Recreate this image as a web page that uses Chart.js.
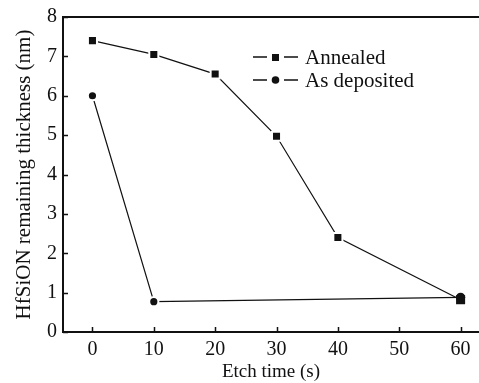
<!DOCTYPE html>
<html>
<head>
<meta charset="utf-8">
<script src="https://cdn.jsdelivr.net/npm/chart.js@4/dist/chart.umd.min.js"></script>
<style>
  html, body { margin: 0; padding: 0; background: #fff; }
  #chart { display: block; }
</style>
</head>
<body>
<canvas id="chart" width="479" height="383"></canvas>
<script>
let etch_times_annealed = [0, 10, 20, 30, 40, 60];
let thickness_annealed = [7.4, 7.05, 6.55, 4.97, 2.4, 0.82];
let etch_times_deposited = [0, 10, 60];
let thickness_deposited = [6.0, 0.77, 0.88];
let x_ticks = [0, 10, 20, 30, 40, 50, 60];

let serif = "'Liberation Serif', 'DejaVu Serif', serif";
let ink = "#111";

function toPoints(xs, ys) {
  let pts = [];
  for (let i = 0; i < xs.length; i++) {
    pts.push({ x: xs[i], y: ys[i] });
  }
  return pts;
}

// no white ring on the last point, where the two markers overlap
function ringWidth(ctx) {
  return ctx.dataIndex === ctx.dataset.data.length - 1 ? 0 : 2;
}

// inward tick marks, top frame line and the legend
let frame = {
  id: "frame",
  afterDraw(chart) {
    let c = chart.ctx;
    let area = chart.chartArea;
    let xs = chart.scales.x;
    let ys = chart.scales.y;
    c.save();
    c.strokeStyle = ink;
    c.lineWidth = 2;
    c.beginPath();
    c.moveTo(area.left - 1, area.top);
    c.lineTo(area.right, area.top);
    c.stroke();

    c.lineWidth = 1.5;
    c.beginPath();
    xs.ticks.forEach((t) => {
      let px = Math.round(xs.getPixelForValue(t.value)) + 0.5;
      c.moveTo(px, area.bottom);
      c.lineTo(px, area.bottom - 5);
    });
    ys.ticks.forEach((t) => {
      let py = Math.round(ys.getPixelForValue(t.value)) + 0.5;
      c.moveTo(area.left, py);
      c.lineTo(area.left + 5, py);
    });
    c.stroke();

    // legend
    let entries = [
      { label: "Annealed", style: "rect", y: 57 },
      { label: "As deposited", style: "circle", y: 80 },
    ];
    entries.forEach((e) => {
      c.strokeStyle = ink;
      c.lineWidth = 1.3;
      c.beginPath();
      c.moveTo(253, e.y);
      c.lineTo(267, e.y);
      c.moveTo(284, e.y);
      c.lineTo(298, e.y);
      c.stroke();
      c.fillStyle = ink;
      if (e.style === "rect") {
        c.fillRect(272, e.y - 3, 7, 7);
      } else {
        c.beginPath();
        c.arc(275.5, e.y, 3.8, 0, Math.PI * 2);
        c.fill();
      }
      c.font = "21px " + serif;
      c.textBaseline = "middle";
      c.textAlign = "left";
      c.fillText(e.label, 305, e.y + 1);
    });
    c.restore();
  },
};

let config = {
  type: "line",
  data: {
    datasets: [
      {
        label: "Annealed",
        data: toPoints(etch_times_annealed, thickness_annealed),
        borderColor: ink,
        borderWidth: 1.2,
        backgroundColor: ink,
        pointStyle: "rect",
        pointRadius: 6.4,
        pointBorderColor: "#fff",
        pointBorderWidth: ringWidth,
        pointBackgroundColor: ink,
        tension: 0,
      },
      {
        label: "As deposited",
        data: toPoints(etch_times_deposited, thickness_deposited),
        borderColor: ink,
        borderWidth: 1.2,
        backgroundColor: ink,
        pointStyle: "circle",
        pointRadius: 4.6,
        pointBorderColor: "#fff",
        pointBorderWidth: ringWidth,
        pointBackgroundColor: ink,
        tension: 0,
      },
    ],
  },
  options: {
    responsive: false,
    animation: false,
    layout: { autoPadding: false, padding: { top: 17, right: 0, left: 0, bottom: 0 } },
    plugins: {
      legend: { display: false },
      tooltip: { enabled: false },
    },
    scales: {
      x: {
        type: "linear",
        min: -4.8,
        max: 63,
        afterBuildTicks: (scale) => {
          scale.ticks = x_ticks.map((v) => ({ value: v }));
        },
        afterFit: (scale) => {
          scale.height = 51;
          scale.paddingLeft = 0;
          scale.paddingRight = 0;
        },
        grid: { display: true, drawOnChartArea: false, drawTicks: false },
        border: { display: true, color: ink, width: 2 },
        ticks: {
          autoSkip: false,
          maxRotation: 0,
          padding: 6,
          color: ink,
          font: { family: serif, size: 20 },
        },
        title: {
          display: true,
          text: "Etch time (s)",
          color: ink,
          font: { family: serif, size: 19 },
          padding: { top: 0, bottom: 0 },
        },
      },
      y: {
        min: 0,
        max: 8,
        afterFit: (scale) => {
          scale.width = 63;
          scale.paddingTop = 0;
          scale.paddingBottom = 0;
        },
        grid: { display: true, drawOnChartArea: false, drawTicks: false },
        border: { display: true, color: ink, width: 2 },
        ticks: {
          stepSize: 1,
          padding: 6,
          color: ink,
          font: { family: serif, size: 20 },
        },
        title: {
          display: true,
          text: "HfSiON remaining thickness (nm)",
          color: ink,
          font: { family: serif, size: 21 },
          padding: { top: 12, bottom: 0 },
        },
      },
    },
  },
  plugins: [frame],
};

let chart = new Chart(document.getElementById("chart"), config);
</script>
</body>
</html>
